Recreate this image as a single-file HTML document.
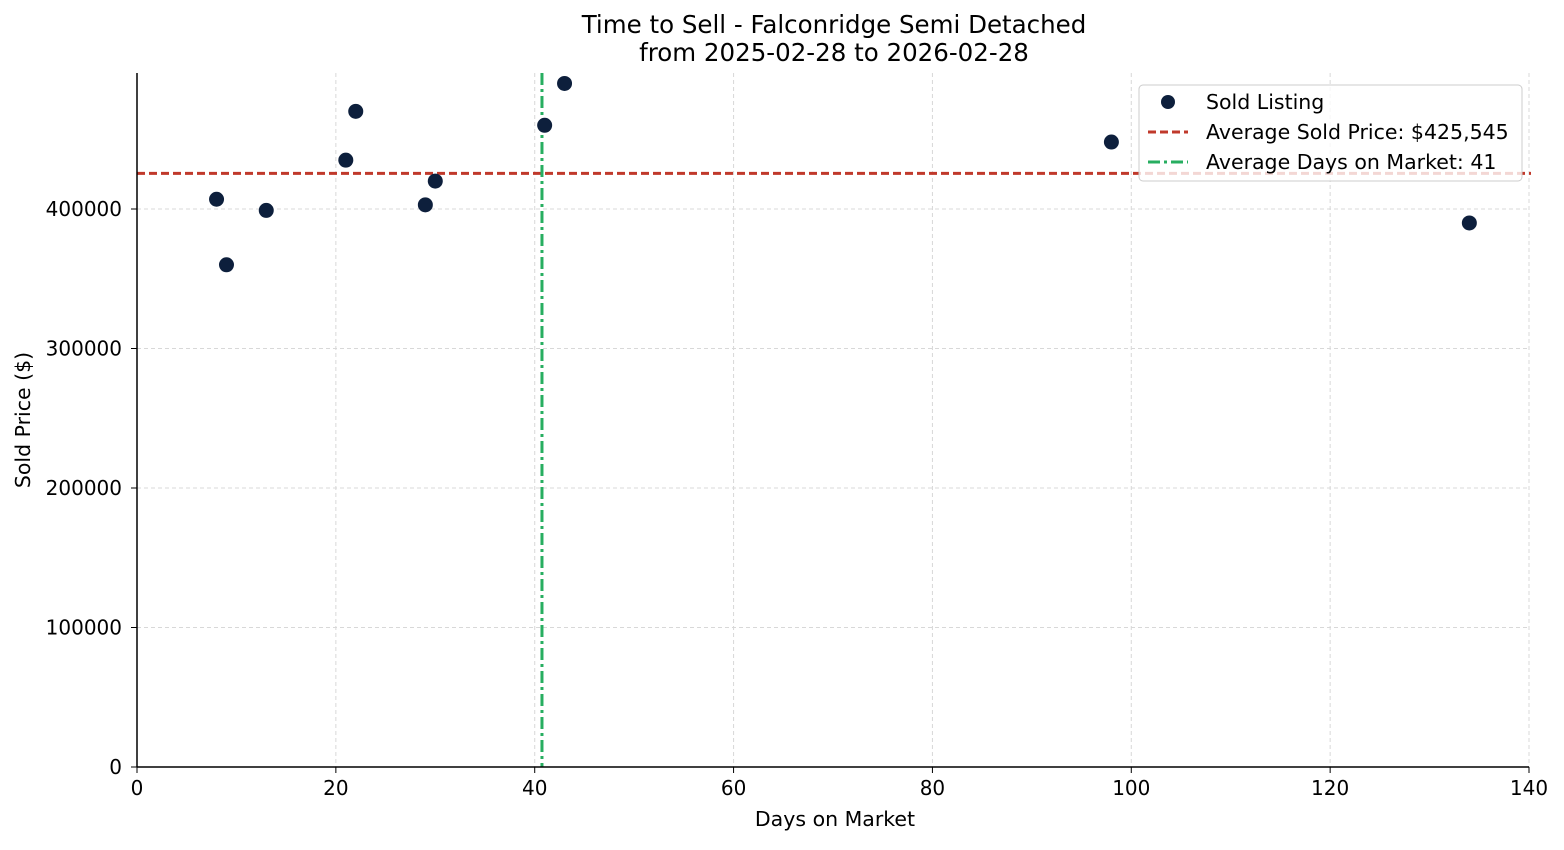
<!DOCTYPE html>
<html><head><meta charset="utf-8"><style>
body{margin:0;background:#fff;font-family:"Liberation Sans","DejaVu Sans",sans-serif;}
svg text{font-family:"DejaVu Sans","Liberation Sans",sans-serif;}
</style></head><body>
<svg id="chart" width="1564" height="845" xmlns="http://www.w3.org/2000/svg">
<rect width="1564" height="845" fill="#fff"/>
<text x="834" y="33" text-anchor="middle" font-size="24.5">Time to Sell - Falconridge Semi Detached</text>
<text x="834" y="61" text-anchor="middle" font-size="24.5">from 2025-02-28 to 2026-02-28</text>
<g id="grid"></g>
<g id="marks"></g>
<g id="axes"></g>
<text x="835" y="826" text-anchor="middle" font-size="20.5">Days on Market</text>
<text transform="translate(30,420) rotate(-90)" text-anchor="middle" font-size="20.5">Sold Price ($)</text>
<g>
<rect x="1139" y="85" width="383" height="96" rx="4" fill="#fff" fill-opacity="0.8" stroke="#ccc"/>
<circle cx="1168" cy="102" r="7" fill="#0d1f3c"/>
<text x="1206" y="109" font-size="20.5">Sold Listing</text>
<line x1="1148" y1="132" x2="1188" y2="132" stroke="#c0392b" stroke-width="3" stroke-dasharray="8,4"/>
<text x="1206" y="139" font-size="20.5">Average Sold Price: $425,545</text>
<line x1="1148" y1="162" x2="1188" y2="162" stroke="#27ae60" stroke-width="3" stroke-dasharray="12,4,3,4"/>
<text x="1206" y="169" font-size="20.5">Average Days on Market: 41</text>
</g>
</svg>
<script>
const days=[8,9,13,21,22,29,30,41,43,98,134];
const prices=[407000,360000,399000,435000,470000,403000,420000,460000,490000,448000,390000];
const xTicks=[0,20,40,60,80,100,120,140];
const yTicks=[0,100000,200000,300000,400000];
const avgPrice=425545;
const avgDays=40.73;
const L=137,R=1529,T=73,B=767,XMAX=140,YMAX=497500;
const X=v=>L+v/XMAX*(R-L), Y=v=>B-v/YMAX*(B-T);
const NS="http://www.w3.org/2000/svg";
function mk(p,tag,a){const e=document.createElementNS(NS,tag);for(const k in a)e.setAttribute(k,a[k]);p.appendChild(e);return e;}
const grid=document.getElementById('grid'),marks=document.getElementById('marks'),axes=document.getElementById('axes');
xTicks.forEach(t=>{
 const g=mk(grid,'line',{x1:X(t),x2:X(t),y1:T,y2:B,stroke:'#d8d8d8','stroke-width':1,'stroke-dasharray':'4,3'});
 
 
 mk(axes,'line',{x1:X(t),x2:X(t),y1:B,y2:B+6,stroke:'#000'});
 const tx=mk(axes,'text',{x:X(t),y:B+28,'text-anchor':'middle','font-size':20});tx.textContent=t;
 
 
});
yTicks.forEach(t=>{
 const g=mk(grid,'line',{x1:L,x2:R,y1:Y(t),y2:Y(t),stroke:'#d8d8d8','stroke-width':1,'stroke-dasharray':'4,3'});
 
 
 mk(axes,'line',{x1:L-6,x2:L,y1:Y(t),y2:Y(t),stroke:'#000'});
 const tx=mk(axes,'text',{x:L-15,y:Y(t)+7,'text-anchor':'end','font-size':20});tx.textContent=t;
 
 
});
mk(axes,'line',{x1:L,x2:L,y1:T,y2:B,stroke:'#000','stroke-width':1.5});
mk(axes,'line',{x1:L,x2:R,y1:B,y2:B,stroke:'#000','stroke-width':1.5});
const hl=mk(marks,'line',{x1:L,x2:R+2,y1:Y(avgPrice),y2:Y(avgPrice),stroke:'#c0392b','stroke-width':3,'stroke-dasharray':'8,4'});


const vl=mk(marks,'line',{x1:X(avgDays),x2:X(avgDays),y1:T,y2:B,stroke:'#27ae60','stroke-width':3,'stroke-dasharray':'12,4,3,4'});


days.forEach((d,i)=>{
 const c=mk(marks,'circle',{cx:X(d),cy:Y(prices[i]),r:7.5,fill:'#0d1f3c'});
 
 
});
</script>
</body></html>
